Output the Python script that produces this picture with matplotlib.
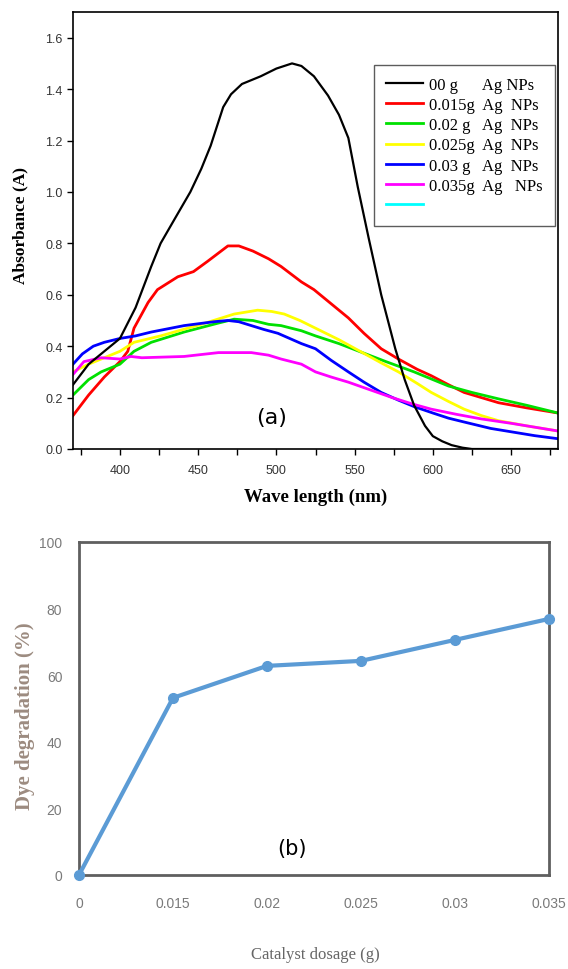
import matplotlib
matplotlib.use("Agg")
import matplotlib.pyplot as plt
from matplotlib.lines import Line2D
import numpy as np

# ---------------- Panel (a) data ----------------
wl_black = [370, 380, 390, 400, 410, 420, 426, 435, 445, 452, 458, 466, 471, 478, 490, 500, 510, 516, 524, 533, 540, 546, 552, 559, 567, 576, 582, 588, 595, 600, 606, 612, 619, 625, 650, 680]
abs_black = [0.25, 0.33, 0.38, 0.43, 0.55, 0.71, 0.80, 0.895, 1.00, 1.09, 1.18, 1.33, 1.38, 1.42, 1.45, 1.48, 1.50, 1.49, 1.45, 1.375, 1.30, 1.21, 1.02, 0.82, 0.60, 0.39, 0.27, 0.17, 0.09, 0.05, 0.03, 0.015, 0.005, 0.0, 0.0, 0.0]

wl_red = [370, 380, 390, 400, 405, 409, 418, 424, 437, 447, 456, 469, 476, 485, 495, 503, 516, 524, 535, 546, 556, 567, 578, 590, 599, 610, 620, 631, 642, 660, 680]
abs_red = [0.13, 0.21, 0.28, 0.34, 0.38, 0.47, 0.57, 0.62, 0.67, 0.69, 0.73, 0.79, 0.79, 0.77, 0.74, 0.71, 0.65, 0.62, 0.565, 0.51, 0.45, 0.39, 0.35, 0.31, 0.285, 0.25, 0.22, 0.20, 0.18, 0.16, 0.14]

wl_green = [370, 380, 388, 400, 409, 420, 441, 463, 473, 485, 495, 503, 516, 525, 540, 555, 570, 588, 600, 610, 625, 642, 660, 680]
abs_green = [0.21, 0.27, 0.30, 0.33, 0.38, 0.415, 0.455, 0.49, 0.505, 0.50, 0.485, 0.48, 0.46, 0.44, 0.41, 0.375, 0.34, 0.30, 0.27, 0.245, 0.22, 0.195, 0.17, 0.14]

wl_yellow = [370, 380, 388, 400, 409, 426, 452, 473, 488, 497, 505, 515, 525, 540, 555, 567, 578, 590, 599, 610, 620, 631, 642, 660, 680]
abs_yellow = [0.30, 0.33, 0.35, 0.38, 0.415, 0.44, 0.485, 0.525, 0.54, 0.535, 0.525, 0.50, 0.47, 0.425, 0.375, 0.335, 0.30, 0.255, 0.22, 0.185, 0.155, 0.13, 0.11, 0.09, 0.07]

wl_blue = [370, 376, 383, 390, 400, 410, 420, 441, 460, 469, 476, 484, 492, 501, 516, 525, 535, 546, 556, 567, 578, 588, 600, 610, 620, 637, 652, 665, 680]
abs_blue = [0.33, 0.37, 0.40, 0.415, 0.43, 0.44, 0.455, 0.48, 0.495, 0.50, 0.495, 0.48, 0.465, 0.45, 0.41, 0.39, 0.345, 0.30, 0.26, 0.22, 0.19, 0.165, 0.14, 0.12, 0.105, 0.08, 0.065, 0.052, 0.04]

wl_magenta = [370, 377, 388, 400, 407, 414, 441, 463, 484, 495, 503, 516, 525, 535, 546, 560, 574, 587, 599, 615, 631, 650, 665, 680]
abs_magenta = [0.29, 0.34, 0.355, 0.35, 0.36, 0.355, 0.36, 0.375, 0.375, 0.365, 0.35, 0.33, 0.30, 0.28, 0.26, 0.23, 0.20, 0.175, 0.155, 0.135, 0.117, 0.10, 0.085, 0.07]

legend_labels = ["00 g      Ag NPs", "0.015g  Ag  NPs", "0.02 g   Ag  NPs",
                 "0.025g  Ag  NPs", "0.03 g   Ag  NPs", "0.035g  Ag   NPs", " "]
a_xticks = [400, 450, 500, 550, 600, 650]
a_yticks = [0.0, 0.2, 0.4, 0.6, 0.8, 1.0, 1.2, 1.4, 1.6]

# ---------------- Panel (b) data ----------------
dosage_labels = ["0", "0.015", "0.02", "0.025", "0.03", "0.035"]
degradation = [0, 53.2, 62.8, 64.3, 70.6, 76.9]
b_yticks = [0, 20, 40, 60, 80, 100]

W, H = 568, 970
fig = plt.figure(figsize=(W / 100, H / 100), dpi=100)

def axrect(l, t, r, b):
    return [l / W, 1 - b / H, (r - l) / W, (b - t) / H]

def ftext(x, y, s, **kw):
    return fig.text(x / W, 1 - y / H, s, ha="center", va="center", **kw)

# ---------- (a) ----------
ax = fig.add_axes(axrect(73, 13, 558, 450))
series = [
    (wl_black, abs_black, "black", 1.6),
    (wl_red, abs_red, "#ff0000", 2.0),
    (wl_green, abs_green, "#00e000", 2.0),
    (wl_yellow, abs_yellow, "#ffff00", 2.0),
    (wl_blue, abs_blue, "#0000ff", 2.0),
    (wl_magenta, abs_magenta, "#ff00ff", 2.0),
]
handles = []
for wl, ab, c, lw in series:
    ax.plot(wl, ab, color=c, lw=lw)
    handles.append(Line2D([], [], color=c, lw=lw))
handles.append(Line2D([], [], color="#00ffff", lw=2.0))
ax.lines[0].set_zorder(3)

ax.set_xlim(370, 680)
ax.set_ylim(0, 1.7)
ax.set_xticks(a_xticks)
ax.set_xticks(np.arange(375, 680, 50), minor=True)
ax.set_yticks(a_yticks)
ax.set_yticklabels([f"{v:.1f}" for v in a_yticks])
ax.tick_params(axis="both", which="both", direction="out", length=4, width=1,
               labelsize=9, labelcolor="#333333", top=False, right=False)
ax.tick_params(axis="x", which="both", pad=7)
for lab in ax.get_xticklabels() + ax.get_yticklabels():
    lab.set_family("Liberation Sans")
for s in ax.spines.values():
    s.set_linewidth(1.2)
ftext(316, 497, "Wave length (nm)", family="Liberation Serif", fontweight="bold",
      fontsize=13.5)
ftext(20, 226, "Absorbance (A)", family="Liberation Serif", fontweight="bold",
      fontsize=12.5, rotation=90)
leg = ax.legend(handles, legend_labels, loc="upper right",
                bbox_to_anchor=(0.994, 0.879), borderaxespad=0,
                prop={"family": "Liberation Serif", "size": 12},
                frameon=True, fancybox=False, edgecolor="#333333",
                handlelength=2.2, labelspacing=0.25, handletextpad=0.4,
                borderpad=0.72)
leg.get_frame().set_linewidth(1.0)
ftext(272, 418, "(a)", fontsize=16, family="DejaVu Sans")

# ---------- (b) ----------
bx = fig.add_axes(axrect(79, 543, 549, 876))
xs = np.arange(len(dosage_labels))
bx.plot(xs, degradation, color="#5b9bd5", lw=3, marker="o", ms=7,
        clip_on=False, zorder=3)
bx.set_xlim(0, len(dosage_labels) - 1)
bx.set_ylim(0, 100)
bx.set_xticks(xs)
bx.set_xticklabels(dosage_labels)
bx.set_yticks(b_yticks)
bx.tick_params(axis="both", length=0, labelsize=10, labelcolor="#7a7a7a")
bx.tick_params(axis="x", pad=15)
bx.tick_params(axis="y", pad=12)
for lab in bx.get_xticklabels() + bx.get_yticklabels():
    lab.set_family("Liberation Sans")
for s in bx.spines.values():
    s.set_linewidth(2)
    s.set_color("#5f5f5f")
ftext(315, 955, "Catalyst dosage (g)", family="Liberation Serif", fontsize=12,
      color="#666666")
ftext(25, 716, "Dye degradation (%)", family="Liberation Serif", fontweight="bold",
      fontsize=15, color="#9c8b80", rotation=90)
ftext(292, 849, "(b)", fontsize=15, family="DejaVu Sans")

fig.savefig("out.png", dpi=100)
